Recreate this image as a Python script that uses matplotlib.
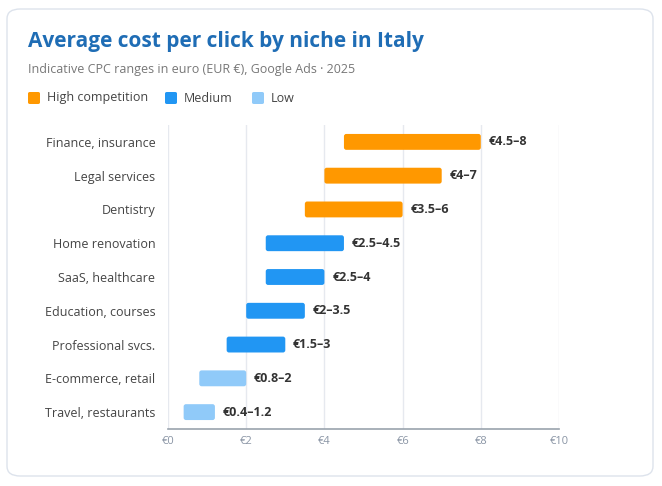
import matplotlib.pyplot as plt
from matplotlib.patches import FancyBboxPatch

plt.rcParams['font.family'] = ['Open Sans', 'DejaVu Sans']

# Data
niches = ["Finance, insurance", "Legal services", "Dentistry", "Home renovation",
          "SaaS, healthcare", "Education, courses", "Professional svcs.",
          "E-commerce, retail", "Travel, restaurants"]
cpc_low = [4.5, 4, 3.5, 2.5, 2.5, 2, 1.5, 0.8, 0.4]
cpc_high = [8, 7, 6, 4.5, 4, 3.5, 3, 2, 1.2]
competition = ["High", "High", "High", "Medium", "Medium", "Medium", "Medium", "Low", "Low"]
range_labels = ["€4.5–8", "€4–7", "€3.5–6", "€2.5–4.5", "€2.5–4", "€2–3.5", "€1.5–3", "€0.8–2", "€0.4–1.2"]

colors = {"High": "#FF9800", "Medium": "#2196F3", "Low": "#90CAF9"}
legend_names = {"High": "High competition", "Medium": "Medium", "Low": "Low"}

fig = plt.figure(figsize=(6.62, 4.86), dpi=100)

# Card background
card = FancyBboxPatch((7 / 662, 10 / 486), 646 / 662, 467 / 486,
                      boxstyle="round,pad=0,rounding_size=0.02",
                      transform=fig.transFigure, facecolor="white",
                      edgecolor="#dde3ec", lw=1, zorder=-5)
fig.patches.append(card)

# Titles
fig.text(28 / 662, 1 - 42 / 486, "Average cost per click by niche in Italy",
         fontsize=15, fontweight="bold", color="#1f6db5", va="center")
fig.text(28 / 662, 1 - 69 / 486, "Indicative CPC ranges in euro (EUR €), Google Ads · 2025",
         fontsize=9, color="#777777", va="center")

# Legend
lx = 28
for key, width in zip(["High", "Medium", "Low"], [137, 87, 0]):
    sq = FancyBboxPatch((lx / 662, 1 - 104 / 486), 12 / 662, 12 / 486,
                        boxstyle="round,pad=0,rounding_size=0.003",
                        transform=fig.transFigure, facecolor=colors[key],
                        edgecolor="none", zorder=-4)
    fig.patches.append(sq)
    fig.text((lx + 19) / 662, 1 - 98 / 486, legend_names[key], fontsize=9,
             color="#444444", va="center")
    lx += width

ax = fig.add_axes([168 / 662, 1 - 429 / 486, 391 / 662, 304 / 486])
ypos = list(range(len(niches)))
bar_h = 0.47

# rounded bars (aspect: data units per pixel, y vs x)
aspect = (9 / 304) / (10 / 391)
for y, lo, hi, comp in zip(ypos, cpc_low, cpc_high, competition):
    ax.add_patch(FancyBboxPatch((lo, y - bar_h / 2), hi - lo, bar_h,
                                boxstyle="round,pad=0,rounding_size=0.06",
                                mutation_aspect=aspect,
                                facecolor=colors[comp], edgecolor="none", zorder=3))

for y, h, lab in zip(ypos, cpc_high, range_labels):
    ax.text(h + 0.2, y, lab, va="center", ha="left", fontsize=9,
            fontweight="bold", color="#333333")

ax.set_xlim(0, 10)
ax.set_ylim(8.5, -0.5)
ax.set_xticks([0, 2, 4, 6, 8, 10])
ax.set_xticklabels(["€0", "€2", "€4", "€6", "€8", "€10"], color="#8a95a5", fontsize=8)
ax.set_yticks(ypos)
ax.set_yticklabels(niches, fontsize=9, color="#444444")
ax.tick_params(axis="both", length=0)
ax.tick_params(axis="y", pad=9)
ax.tick_params(axis="x", pad=5)
ax.grid(axis="x", color="#e6e9ef", lw=1, zorder=0)
for s in ["top", "right", "left"]:
    ax.spines[s].set_visible(False)
ax.spines["bottom"].set_color("#9aa3ad")
ax.spines["bottom"].set_linewidth(1.2)
ax.set_facecolor("none")

fig.savefig("out.png", dpi=100)
